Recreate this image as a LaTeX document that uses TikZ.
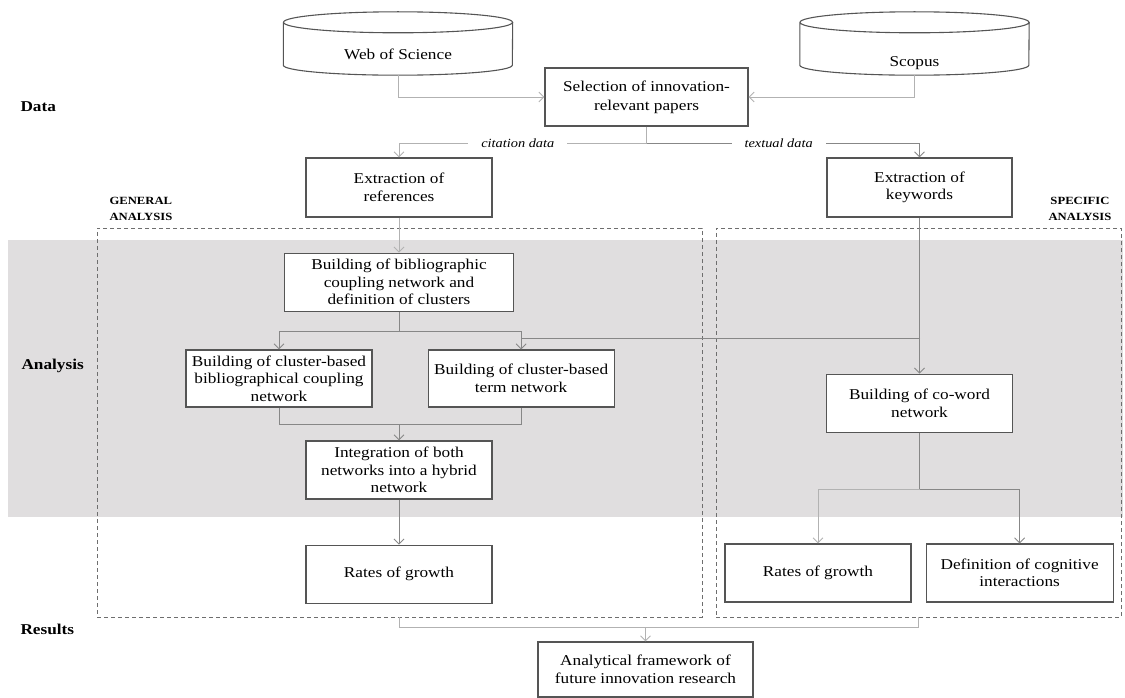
\documentclass[tikz,border=0pt]{standalone}
\usepackage{fontspec}
\setmainfont{Liberation Serif}[FakeStretch=1.15]
\usepackage{xcolor}
\usepackage{tikz}
\usetikzlibrary{arrows.meta,positioning}
\definecolor{bandgray}{RGB}{224,222,223}
\definecolor{boxgray}{RGB}{85,85,85}
\definecolor{linegray}{RGB}{135,135,135}
\definecolor{palegray}{RGB}{178,178,178}
% database drum round a named node: node, half width
\newcommand\dbshape[2]{%
  \draw[boxgray,line width=1.1pt] ([yshift=-10.5pt]#1.north) ellipse[x radius=#2pt,y radius=10.5pt]
    ([yshift=-10.5pt]#1.north west) -- ([yshift=10pt]#1.south west)
    arc[start angle=180,end angle=360,x radius=#2pt,y radius=10pt]
    -- ([yshift=-10.5pt]#1.north east);}

\begin{document}
\begin{tikzpicture}[x=1pt,y=-1pt,every node/.style={font=\fontsize{15}{17.5}\selectfont},
  box/.style={draw=boxgray,line width=1.1pt,fill=white,align=center,inner sep=2pt},
  dbase/.style={align=center,inner sep=0pt,minimum width=229pt,minimum height=63pt},
  region/.style={draw=boxgray!85,dash pattern=on 4pt off 3pt,line width=0.9pt,inner sep=0pt},
  tag/.style={font=\fontsize{15}{17.5}\selectfont\bfseries,anchor=west},
  side/.style={font=\fontsize{11}{16}\selectfont\bfseries},
  lbl/.style={font=\fontsize{12.5}{14}\selectfont\itshape,fill=white,inner xsep=13pt,inner ysep=1pt},
  conn/.style={draw=linegray,line width=0.9pt},
  arr/.style={conn,-{Straight Barb[length=5pt,width=10pt]}},
  paleconn/.style={conn,draw=palegray},
  palearr/.style={arr,draw=palegray}]
\useasboundingbox (0,0) rectangle (1125,698);
\fill[bandgray] (8,240) rectangle (1123,517);
\node[region,minimum width=605pt,minimum height=389pt](gen) at (399.5,422.5){};
\node[region,minimum width=405pt,minimum height=389pt](spec) at (918.5,422.5){};
% row labels
\node[tag](data) at (17,107){Data};
\node[tag](analysis) at (18,366){Analysis};
\node[tag](results) at (17,629){Results};
\node[side,anchor=west,align=left](genlbl) at (106,209){GENERAL\\ANALYSIS};
\node[side,align=center](speclbl) at (1080,209){SPECIFIC\\ANALYSIS};
% sources
\node[dbase,text height=33pt,text depth=0pt](wos) at (398,43.5){Web of Science};
\node[dbase,text height=47pt,text depth=0pt](scopus) at (914.5,43.5){Scopus};
\dbshape{wos}{114.5}
\dbshape{scopus}{114.5}
\node[box,minimum width=203pt,minimum height=58pt,font=\fontsize{15}{19}\selectfont](sel) at (646.5,97){Selection of innovation-\\relevant papers};
\node[box,minimum width=186pt,minimum height=59pt](refs) at (399,187.5){Extraction of\\references};
\node[box,minimum width=185pt,minimum height=59pt](keys) at (919.5,187.5){Extraction of\\keywords};
% general analysis
\node[box,minimum width=229pt,minimum height=58pt,below=35pt of refs](bib){Building of bibliographic\\coupling network and\\definition of clusters};
\node[box,minimum width=186pt,minimum height=57pt](cbib) at (279,378.5){Building of cluster-based\\bibliographical coupling\\network};
\node[box,minimum width=186pt,minimum height=57pt,right=55pt of cbib](cterm){Building of cluster-based\\term network};
\node[box,minimum width=186pt,minimum height=58pt](integ) at (399,470){Integration of both\\networks into a hybrid\\network};
\node[box,minimum width=186pt,minimum height=58pt,below=45pt of integ](rates1){Rates of growth};
% specific analysis
\node[box,minimum width=186pt,minimum height=58pt,below=156pt of keys](coword){Building of co-word\\network};
\node[box,minimum width=186pt,minimum height=58pt](rates2) at (818,573){Rates of growth};
\node[box,minimum width=187pt,minimum height=58pt,right=14pt of rates2](cogn){Definition of cognitive\\interactions};
% results
\node[box,minimum width=215pt,minimum height=55pt](frame) at (645.5,669.5){Analytical framework of\\future innovation research};
% connectors
\coordinate (split) at ([yshift=-17pt]sel.south);
\coordinate (bsplit) at ([yshift=-20pt]bib.south);
\coordinate (kjoin) at (920,338);
\coordinate (cmerge) at ([yshift=16pt]integ.north);
\coordinate (cosplit) at ([yshift=-57pt]coword.south);
\coordinate (fmerge) at ([yshift=14pt]frame.north);
\draw[palearr](wos)|-(sel);
\draw[palearr](scopus)|-(sel);
\draw[paleconn](sel)--(split);
\draw[palearr](split)-|node[lbl,pos=0.26]{citation data}(refs);
\draw[arr](split)-|node[lbl,pos=0.242]{textual data}(keys);
\draw[palearr](refs)--(bib);
\draw[conn](bib)--(bsplit);
\draw[arr](bsplit)-|(cbib);
\draw[arr](bsplit)-|(cterm);
\draw[arr](keys)--(coword);
\draw[conn](kjoin)--(kjoin-|cterm);
\draw[conn](cbib)|-(cmerge)-|(cterm);
\draw[arr](cmerge)--(integ);
\draw[arr](integ)--(rates1);
\draw[conn](coword)--(cosplit);
\draw[palearr](cosplit)-|(rates2);
\draw[arr](cosplit)-|(cogn);
\draw[paleconn](gen)|-(fmerge)-|(spec);
\draw[palearr](fmerge)--(frame);
\end{tikzpicture}
\end{document}
